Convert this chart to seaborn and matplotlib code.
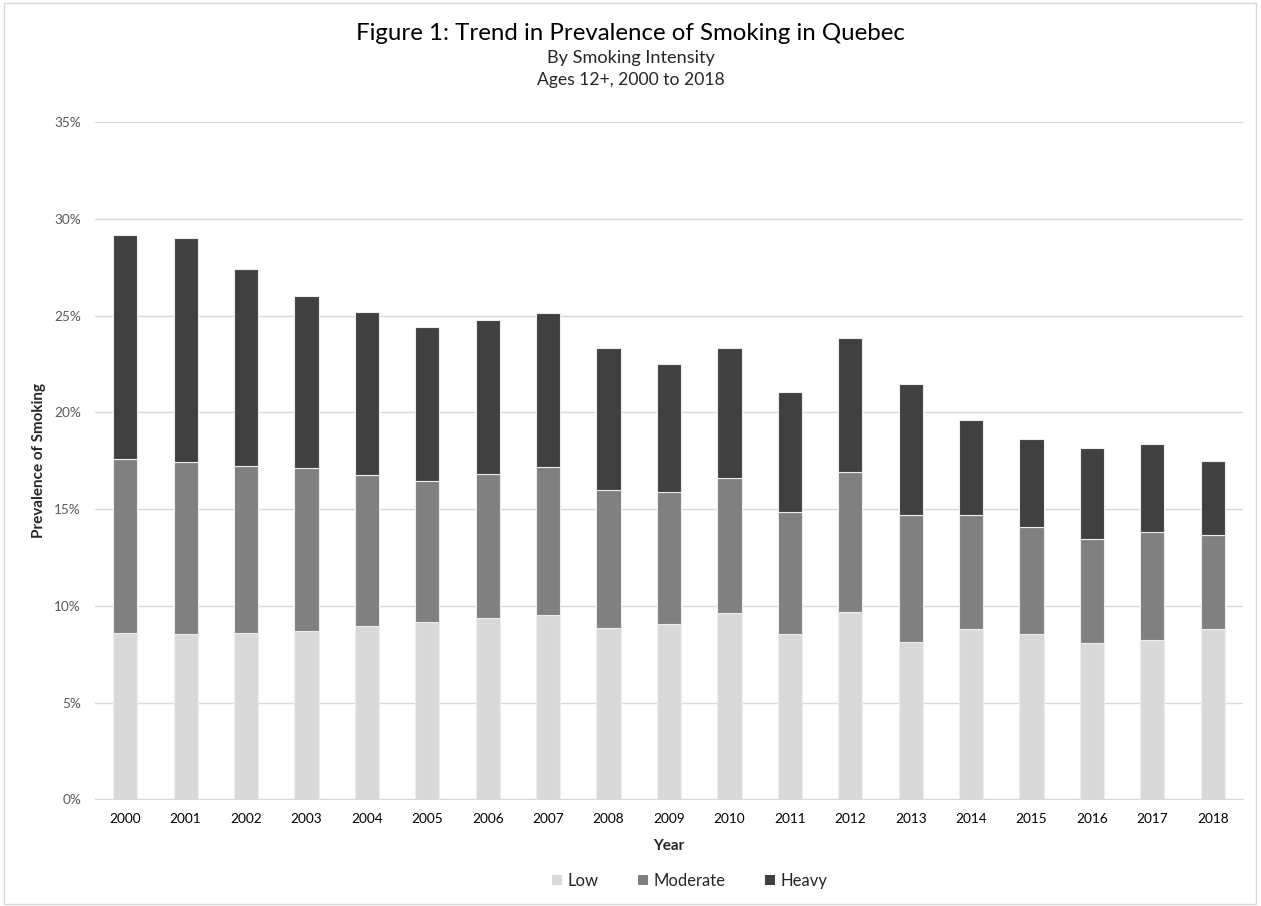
import matplotlib
matplotlib.use("Agg")
import matplotlib.pyplot as plt
import seaborn as sns
import pandas as pd
from matplotlib.patches import Patch, Rectangle
from matplotlib.ticker import FuncFormatter, MultipleLocator

years = [str(y) for y in range(2000, 2019)]
low = [8.58, 8.53, 8.58, 8.72, 8.94, 9.17, 9.36, 9.53, 8.84, 9.06, 9.65, 8.55, 9.67, 8.12, 8.81, 8.55, 8.08, 8.24, 8.81]
moderate = [9.01, 8.91, 8.65, 8.41, 7.84, 7.30, 7.47, 7.67, 7.15, 6.83, 6.96, 6.30, 7.23, 6.58, 5.89, 5.53, 5.38, 5.58, 4.86]
heavy = [11.58, 11.56, 10.16, 8.87, 8.41, 7.93, 7.93, 7.92, 7.34, 6.59, 6.70, 6.19, 6.93, 6.75, 4.89, 4.55, 4.68, 4.53, 3.80]
series = ["Low", "Moderate", "Heavy"]
colors = ["#D9D9D9", "#808080", "#404040"]

sns.set_style("white")
plt.rcParams['font.family'] = ['Lato', 'DejaVu Sans']

df = pd.DataFrame({"Year": years, "Low": low, "Moderate": moderate, "Heavy": heavy})
df["b_mod"] = df["Low"]
df["b_heavy"] = df["Low"] + df["Moderate"]

fig = plt.figure(figsize=(12.61, 9.06), dpi=100)
ax = fig.add_axes([95/1261, 1-799.4/906, (1243-95)/1261, (799.4-122)/906])

bottoms = [None, df["b_mod"].values, df["b_heavy"].values]
for s, c, b in zip(series, colors, bottoms):
    kw = {}
    if b is not None:
        kw["bottom"] = b
    sns.barplot(data=df, x="Year", y=s, order=years, color=c, width=0.4,
                edgecolor="#EDEDED", linewidth=0.8, ax=ax, saturation=1, **kw)

ax.set_ylim(0, 35)
ax.set_xlim(-0.5, 18.5)
ax.yaxis.set_major_locator(MultipleLocator(5))
ax.yaxis.set_major_formatter(FuncFormatter(lambda v, p: f"{v:.0f}%"))
ax.grid(axis="y", color="#D9D9D9", linewidth=1)
ax.set_axisbelow(True)
for sp in ["top", "right", "left"]:
    ax.spines[sp].set_visible(False)
ax.spines["bottom"].set_color("#D9D9D9")
ax.tick_params(axis="y", length=0, labelsize=9.8, colors="#595959", pad=10)
ax.tick_params(axis="x", length=0, labelsize=9.8, colors="#000000", pad=10)
ax.set_xlabel("Year", fontsize=11, fontweight="bold", labelpad=10)
ax.set_ylabel("Prevalence of Smoking", fontsize=11, fontweight="bold", labelpad=6)

fig.text(0.5, 1-40/906, "Figure 1: Trend in Prevalence of Smoking in Quebec",
         ha="center", va="baseline", fontsize=17.3, color="#000000")
fig.text(0.5, 1-63/906, "By Smoking Intensity", ha="center", va="baseline", fontsize=13.1)
fig.text(0.5, 1-84.5/906, "Ages 12+, 2000 to 2018", ha="center", va="baseline", fontsize=12.6)

handles = [Patch(facecolor=c, edgecolor="none", label=s) for s, c in zip(series, colors)]
fig.legend(handles=handles, loc="center", bbox_to_anchor=(690/1261, 1-881/906), ncol=3,
           frameon=False, fontsize=12, handlelength=0.6, handleheight=0.6,
           handletextpad=0.35, columnspacing=2.35)

fig.patches.append(Rectangle((4/1261, 2/906), 1252/1261, 901/906, transform=fig.transFigure,
                             fill=False, edgecolor="#D9D9D9", linewidth=1))

fig.savefig("out.png", dpi=100, facecolor="white")
